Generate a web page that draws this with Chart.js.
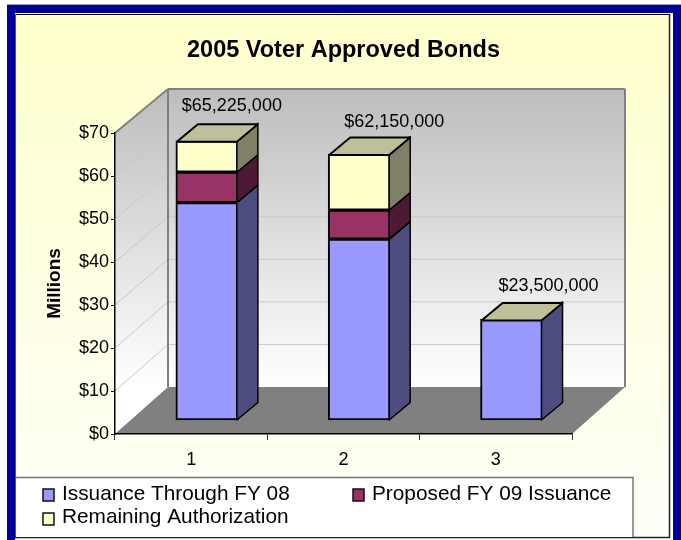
<!DOCTYPE html>
<html>
<head>
<meta charset="utf-8">
<title>2005 Voter Approved Bonds</title>
<script src="https://cdn.jsdelivr.net/npm/chart.js@4"></script>
<style>
  html, body { margin: 0; padding: 0; background: #fff; }
  canvas { display: block; }
</style>
</head>
<body>
<canvas id="bondsChart" width="681" height="540"></canvas>
<script>
// Values in millions of dollars
const categories = ['1', '2', '3'];
const issuanceThroughFY08 = [50.8, 42.25, 23.5];
const proposedFY09 = [7.1, 6.8, null];
const remainingAuthorization = [7.325, 13.1, null];
const seriesNames = ['Issuance Through FY 08', 'Proposed FY 09 Issuance', 'Remaining Authorization'];
const axisMax = 70;
const axisStep = 10;

const FONT = '"Liberation Sans", Arial, sans-serif';
const seriesColors = ['#9999FF', '#993366', '#FFFFCC'];
const sideColors = ['#4D4D80', '#4D1A33', '#808066'];
const topColor = '#BFBF99';

// The back wall sits up and to the right of the axis plane
const wallDx = 53;
const wallDyBottom = 47;
const wallDyTop = 44;
// Depth of each column
const barDx = 21;
const barDy = 17.5;
// Fine placement of the total above each column
const totalNudge = [[25, -17], [35, -14], [37, -16]];

const totals = categories.map((_, i) =>
  (issuanceThroughFY08[i] || 0) + (proposedFY09[i] || 0) + (remainingAuthorization[i] || 0));

function money(millions) {
  return '$' + Math.round(millions * 1e6).toLocaleString('en-US');
}

function poly(ctx, pts, fill, stroke, lineWidth) {
  ctx.beginPath();
  pts.forEach((p, i) => i ? ctx.lineTo(p[0], p[1]) : ctx.moveTo(p[0], p[1]));
  ctx.closePath();
  if (fill) { ctx.fillStyle = fill; ctx.fill(); }
  if (stroke) { ctx.strokeStyle = stroke; ctx.lineWidth = lineWidth; ctx.lineJoin = 'round'; ctx.stroke(); }
}

function line(ctx, x1, y1, x2, y2, color, width) {
  ctx.beginPath();
  ctx.moveTo(x1, y1);
  ctx.lineTo(x2, y2);
  ctx.strokeStyle = color;
  ctx.lineWidth = width;
  ctx.stroke();
}

// Frame, page gradient and legend panel
function drawFrame(ctx) {
  ctx.fillStyle = '#fff';
  ctx.fillRect(0, 0, 681, 540);
  ctx.fillStyle = '#000099';
  ctx.fillRect(7, 4, 674, 536);
  ctx.fillStyle = '#9999CC';
  ctx.fillRect(7, 4, 674, 1);
  ctx.fillStyle = '#fff';
  ctx.fillRect(15, 13, 658, 527);

  const page = ctx.createLinearGradient(0, 15, 0, 537);
  page.addColorStop(0, '#FFFFCC');
  page.addColorStop(1, '#FFFFFA');
  ctx.fillStyle = page;
  ctx.fillRect(16, 15, 654, 522);

  line(ctx, 15, 14.5, 670, 14.5, '#000', 1);
  line(ctx, 15.5, 14, 15.5, 538, '#555', 1);
  line(ctx, 669.5, 14, 669.5, 538, '#222', 1.5);
  line(ctx, 15, 537.5, 670, 537.5, '#222', 1.5);

  ctx.fillStyle = '#fff';
  ctx.fillRect(16, 478, 617, 59);
  line(ctx, 16, 477.5, 633.5, 477.5, '#777', 1.5);
  line(ctx, 633, 477, 633, 537, '#777', 1.5);
}

// Walls, floor and gridlines behind the columns
function drawRoom(chart) {
  const { ctx, chartArea: { left, right } } = chart;
  const y = chart.scales.y;
  const frontY = v => y.getPixelForValue(v);
  const backY = v => frontY(v) - wallDyBottom + (wallDyBottom - wallDyTop) * v / axisMax;

  const wall = ctx.createLinearGradient(0, backY(axisMax), 0, backY(0));
  wall.addColorStop(0, '#BDBDBD');
  wall.addColorStop(1, '#FFFFFF');

  poly(ctx, [[left + wallDx, backY(0)], [right + wallDx, backY(0)], [right + wallDx, backY(axisMax)], [left + wallDx, backY(axisMax)]], wall);
  poly(ctx, [[left, frontY(0)], [left + wallDx, backY(0)], [left + wallDx, backY(axisMax)], [left, frontY(axisMax)]], wall);

  for (let v = axisStep; v < axisMax; v += axisStep) {
    line(ctx, left, frontY(v), left + wallDx, backY(v), '#C8C8C8', 1);
    line(ctx, left + wallDx, backY(v), right + wallDx, backY(v), '#C8C8C8', 1);
  }

  poly(ctx, [[left, frontY(0)], [left + wallDx, backY(0)], [right + wallDx, backY(0)], [right, frontY(0)]], '#808080');

  line(ctx, left, frontY(axisMax), left + wallDx, backY(axisMax), '#808080', 2);
  line(ctx, left + wallDx, backY(axisMax), right + wallDx, backY(axisMax), '#808080', 2);
  line(ctx, left + wallDx, backY(axisMax), left + wallDx, backY(0), '#808080', 2);
  line(ctx, right + wallDx, backY(axisMax), right + wallDx, backY(0), '#808080', 2);
}

// Side and top faces of the columns, then the totals
function drawDepth(chart) {
  const { ctx } = chart;
  categories.forEach((_, i) => {
    let top = null;
    chart.data.datasets.forEach((ds, d) => {
      const bar = chart.getDatasetMeta(d).data[i];
      if (ds.data[i] === null || !bar) return;
      const r = bar.x + bar.width / 2 - 1;
      poly(ctx, [[r, bar.y], [r + barDx, bar.y - barDy], [r + barDx, bar.base - barDy], [r, bar.base]], sideColors[d], '#000', 1.5);
      top = bar;
    });
    const l = top.x - top.width / 2 + 1;
    const r = top.x + top.width / 2 - 1;
    poly(ctx, [[l, top.y + 1], [r, top.y + 1], [r + barDx, top.y + 1 - barDy], [l + barDx, top.y + 1 - barDy]], topColor, '#000', 2);

    ctx.font = '18px ' + FONT;
    ctx.fillStyle = '#000';
    ctx.textAlign = 'center';
    ctx.textBaseline = 'middle';
    ctx.fillText(money(totals[i]), top.x + totalNudge[i][0], top.y - barDy + totalNudge[i][1]);
  });
}

function drawLegend(ctx) {
  const spots = [[43, 489, 62, 494], [353, 489, 372, 494], [43, 513, 62, 517]];
  seriesNames.forEach((name, i) => {
    const s = spots[i];
    ctx.fillStyle = seriesColors[i];
    ctx.fillRect(s[0], s[1], 11, 12);
    ctx.strokeStyle = '#111';
    ctx.lineWidth = 1.5;
    ctx.strokeRect(s[0], s[1], 11, 12);
    ctx.font = '20.8px ' + FONT;
    ctx.fillStyle = '#000';
    ctx.textAlign = 'left';
    ctx.textBaseline = 'middle';
    ctx.fillText(name, s[2], s[3]);
  });
}

const scenery = {
  id: 'scenery',
  beforeDraw(chart) {
    drawFrame(chart.ctx);
    drawRoom(chart);
  },
  afterDatasetsDraw(chart) {
    chart.ctx.save();
    drawDepth(chart);
    chart.ctx.restore();
  },
  afterDraw(chart) {
    chart.ctx.save();
    drawLegend(chart.ctx);
    chart.ctx.restore();
  }
};

Chart.defaults.font.family = FONT;
Chart.defaults.color = '#000';

function seriesDataset(i, values) {
  return {
    label: seriesNames[i],
    data: values,
    backgroundColor: seriesColors[i],
    borderColor: '#000',
    borderWidth: 2,
    borderSkipped: false,
    barThickness: 62,
    xAxisID: 'xBar',
    yAxisID: 'yBar'
  };
}

new Chart(document.getElementById('bondsChart'), {
  type: 'bar',
  data: {
    labels: categories,
    datasets: [
      seriesDataset(0, issuanceThroughFY08),
      seriesDataset(1, proposedFY09),
      seriesDataset(2, remainingAuthorization)
    ]
  },
  plugins: [scenery],
  options: {
    responsive: false,
    animation: false,
    layout: { padding: { left: 40, right: 109, top: 0, bottom: 66 } },
    plugins: {
      legend: { display: false },
      tooltip: { enabled: false },
      title: {
        display: true,
        text: '2005 Voter Approved Bonds',
        fullSize: false,
        color: '#000',
        font: { size: 23.5, weight: 'bold' },
        padding: { top: 36, bottom: 68.8 }
      }
    },
    scales: {
      // Visible axes
      x: {
        type: 'category',
        offset: true,
        grid: { offset: true, drawOnChartArea: false, tickLength: 6, color: '#333' },
        border: { color: '#000', width: 1.5 },
        ticks: { font: { size: 18 }, padding: 9 },
        afterFit(scale) { scale.height = 40; }
      },
      y: {
        type: 'linear',
        min: 0,
        max: axisMax,
        grid: { drawOnChartArea: false, tickLength: 4, color: '#000' },
        border: { color: '#000', width: 1.5 },
        ticks: {
          stepSize: axisStep,
          font: { size: 18 },
          padding: 2,
          callback: v => '$' + v
        },
        title: {
          display: true,
          text: 'Millions',
          font: { size: 19, weight: 'bold' },
          padding: { top: 3, bottom: 0 }
        },
        afterFit(scale) { scale.width = 75; }
      },
      // Columns stand on a plane set in from the axes
      xBar: { type: 'linear', display: false, stacked: true, offset: false, min: 0.397, max: 3.397 },
      yBar: { type: 'linear', display: false, stacked: true, min: -3.27, max: 67.06 }
    }
  }
});
</script>
</body>
</html>
